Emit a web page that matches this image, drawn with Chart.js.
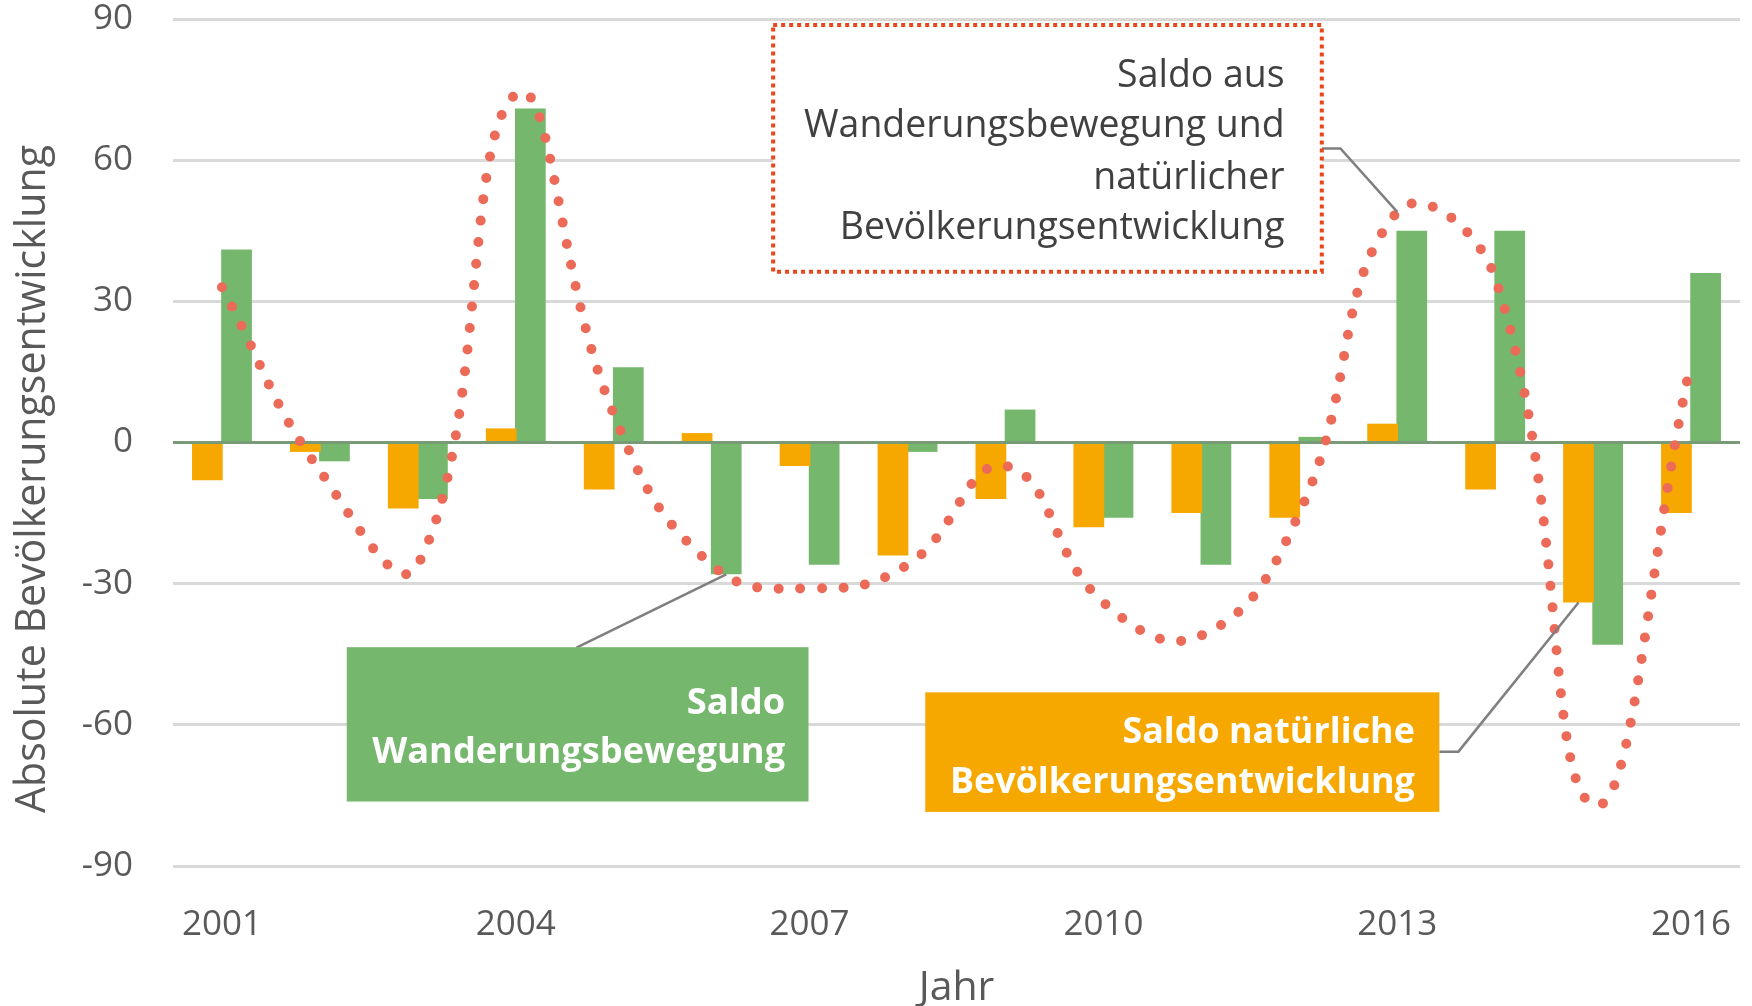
<!DOCTYPE html>
<html><head><meta charset="utf-8">
<script src="https://cdn.jsdelivr.net/npm/chart.js@4.4.1/dist/chart.umd.min.js"></script>
<style>html,body{margin:0;padding:0;background:#fff;overflow:hidden}canvas{display:block}</style>
</head><body>
<canvas id="c" width="1752" height="1006"></canvas>
<script>
// ---- data ----
const years = ['2001','2002','2003','2004','2005','2006','2007','2008','2009','2010','2011','2012','2013','2014','2015','2016'];
const labelledYears = ['2001','2004','2007','2010','2013','2016'];
const naturalBalance   = [-8, -2, -14, 3, -10, 2, -5, -24, -12, -18, -15, -16, 4, -10, -34, -15];
const migrationBalance = [41, -4, -12, 71, 16, -28, -26, -2, 7, -16, -26, 1.2, 45, 45, -43, 36];
const totalBalance     = [33, -6, -26, 74, 6, -26, -31, -26, -5, -34, -41, -15, 49, 35, -77, 17];
const yMin = -90, yMax = 90, yStep = 30;

const seriesNames = ['Saldo natürliche Bevölkerungsentwicklung','Saldo Wanderungsbewegung','Saldo aus Wanderungsbewegung und natürlicher Bevölkerungsentwicklung'];
const yTitle = 'Absolute Bevölkerungsentwicklung';
const xTitle = 'Jahr';

// ---- styles ----
const FONT = '"Open Sans", "Noto Sans", sans-serif';
const GREEN = '#75B86D', ORANGE = '#F6A800', RED = '#EC6B58', GRID = '#D9D9D9', ZERO = '#789A77', TXT = '#595959';

function fitSize(ctx, text, weight, target){
  ctx.font = weight + ' 100px ' + FONT;
  return 100 * target / ctx.measureText(text).width;
}

// annotation specs (x in category-index units, y in value units)
const notes = [
  {fill: GREEN, x0: 1.274, x1: 5.989, y0: -43.5, y1: -76.3, tx: 5.75,
   lines: ['Saldo', 'Wanderungsbewegung'], base: [-57.7, -68.1], color: '#FFFFFF', weight: 'bold', fit: [1, 413],
   leader: [[3.62, -43.6]], target: {ds: 1, i: 5}},
  {fill: ORANGE, x0: 7.181, x1: 12.43, y0: -53.1, y1: -78.5, tx: 12.18,
   lines: ['Saldo natürliche', 'Bevölkerungsentwicklung'], base: [-63.8, -74.4], color: '#FFFFFF', weight: 'bold', fit: [1, 465],
   leader: [[12.43, -65.7], [12.625, -65.7]], target: {ds: 0, i: 14}},
  {stroke: '#E8461B', x0: 5.628, x1: 11.23, y0: 88.7, y1: 36.3, tx: 10.85,
   lines: ['Saldo aus', 'Wanderungsbewegung und', 'natürlicher', 'Bevölkerungsentwicklung'], base: [75.6, 65.0, 53.9, 43.3],
   color: '#404040', weight: 'normal', fit: [3, 445],
   leader: [[11.23, 62.5], [11.42, 62.5]], target: {ds: 2, i: 12}}
];

const annot = {
  id: 'annot',
  beforeDatasetDraw(chart, args){
    if (args.index !== 2) return;
    const {ctx, chartArea: a, scales: {y}} = chart;
    const py = y.getPixelForValue(0);
    ctx.save(); ctx.strokeStyle = ZERO; ctx.lineWidth = 3;
    ctx.beginPath(); ctx.moveTo(a.left, py); ctx.lineTo(a.right, py); ctx.stroke(); ctx.restore();
  },
  afterDraw(chart){
    const {ctx, scales: {x, y}} = chart;
    ctx.save();
    // leaders
    notes.forEach(n => {
      const el = chart.getDatasetMeta(n.target.ds).data[n.target.i];
      ctx.strokeStyle = '#7F7F7F'; ctx.lineWidth = 2.5; ctx.setLineDash([]);
      ctx.beginPath();
      n.leader.forEach((p, k) => { const px = x.getPixelForValue(p[0]), py = y.getPixelForValue(p[1]); k ? ctx.lineTo(px, py) : ctx.moveTo(px, py); });
      ctx.lineTo(el.x, el.y);
      ctx.stroke();
    });
    // boxes
    notes.forEach(n => {
      const L = x.getPixelForValue(n.x0), R = x.getPixelForValue(n.x1);
      const T = y.getPixelForValue(n.y0), B = y.getPixelForValue(n.y1);
      if (n.fill){ ctx.fillStyle = n.fill; ctx.fillRect(L, T, R - L, B - T); }
      else {
        ctx.fillStyle = '#FFFFFF'; ctx.fillRect(L, T, R - L, B - T);
        ctx.strokeStyle = n.stroke; ctx.lineWidth = 4; ctx.setLineDash([4, 4]); ctx.lineCap = 'butt';
        ctx.strokeRect(L, T, R - L, B - T); ctx.setLineDash([]);
      }
      const size = fitSize(ctx, n.lines[n.fit[0]], n.weight, n.fit[1]);
      ctx.font = n.weight + ' ' + size.toFixed(2) + 'px ' + FONT;
      ctx.fillStyle = n.color; ctx.textAlign = 'right'; ctx.textBaseline = 'alphabetic';
      const tx = x.getPixelForValue(n.tx);
      n.lines.forEach((t, k) => ctx.fillText(t, tx, y.getPixelForValue(n.base[k])));
    });
    // y-axis title
    const s = fitSize(ctx, yTitle, 'normal', 668);
    ctx.font = 'normal ' + s.toFixed(2) + 'px ' + FONT;
    ctx.fillStyle = TXT; ctx.textAlign = 'center'; ctx.textBaseline = 'middle';
    ctx.translate(33.5, 479); ctx.rotate(-Math.PI / 2);
    ctx.fillText(yTitle, 0, 0);
    ctx.restore();
  }
};

new Chart(document.getElementById('c'), {
  data: {
    labels: years,
    datasets: [
      {type: 'bar', label: seriesNames[0], data: naturalBalance, backgroundColor: ORANGE, order: 1,
       categoryPercentage: 0.595, barPercentage: 1.055},
      {type: 'bar', label: seriesNames[1], data: migrationBalance, backgroundColor: GREEN, order: 2,
       categoryPercentage: 0.595, barPercentage: 1.055},
      {type: 'line', label: seriesNames[2], data: totalBalance, borderColor: RED, borderWidth: 10,
       borderDash: [0, 21.6], borderCapStyle: 'round', pointRadius: 0, tension: 0.45, fill: false, order: 0}
    ]
  },
  options: {
    responsive: false, animation: false, devicePixelRatio: 1,
    layout: {autoPadding: false, padding: {left: 0, right: 12, top: 19, bottom: 0}},
    plugins: {legend: {display: false}, tooltip: {enabled: false}},
    scales: {
      x: {
        type: 'category', offset: true,
        grid: {display: false}, border: {display: false},
        ticks: {autoSkip: false, maxRotation: 0, minRotation: 0, padding: 30, color: TXT,
                font: {family: FONT, size: 35, lineHeight: 1.2},
                callback(v, i){ const l = years[i]; return labelledYears.includes(l) ? l : ''; }},
        title: {display: true, text: xTitle, color: TXT, font: {family: FONT, size: 41, lineHeight: 0.8}, padding: {top: 0, bottom: 1}},
        afterFit(scale){ scale.height = 140; scale.paddingLeft = 0; scale.paddingRight = 0; }
      },
      y: {
        min: yMin, max: yMax,
        grid: {color: c => c.tick && c.tick.value === 0 ? ZERO : GRID, lineWidth: 3, drawTicks: false},
        border: {display: false},
        ticks: {stepSize: yStep, padding: 40, color: TXT, font: {family: FONT, size: 35, lineHeight: 1}},
        afterFit(scale){ scale.width = 173; scale.paddingTop = 0; scale.paddingBottom = 0; }
      }
    }
  },
  plugins: [annot]
});
</script>
</body></html>
